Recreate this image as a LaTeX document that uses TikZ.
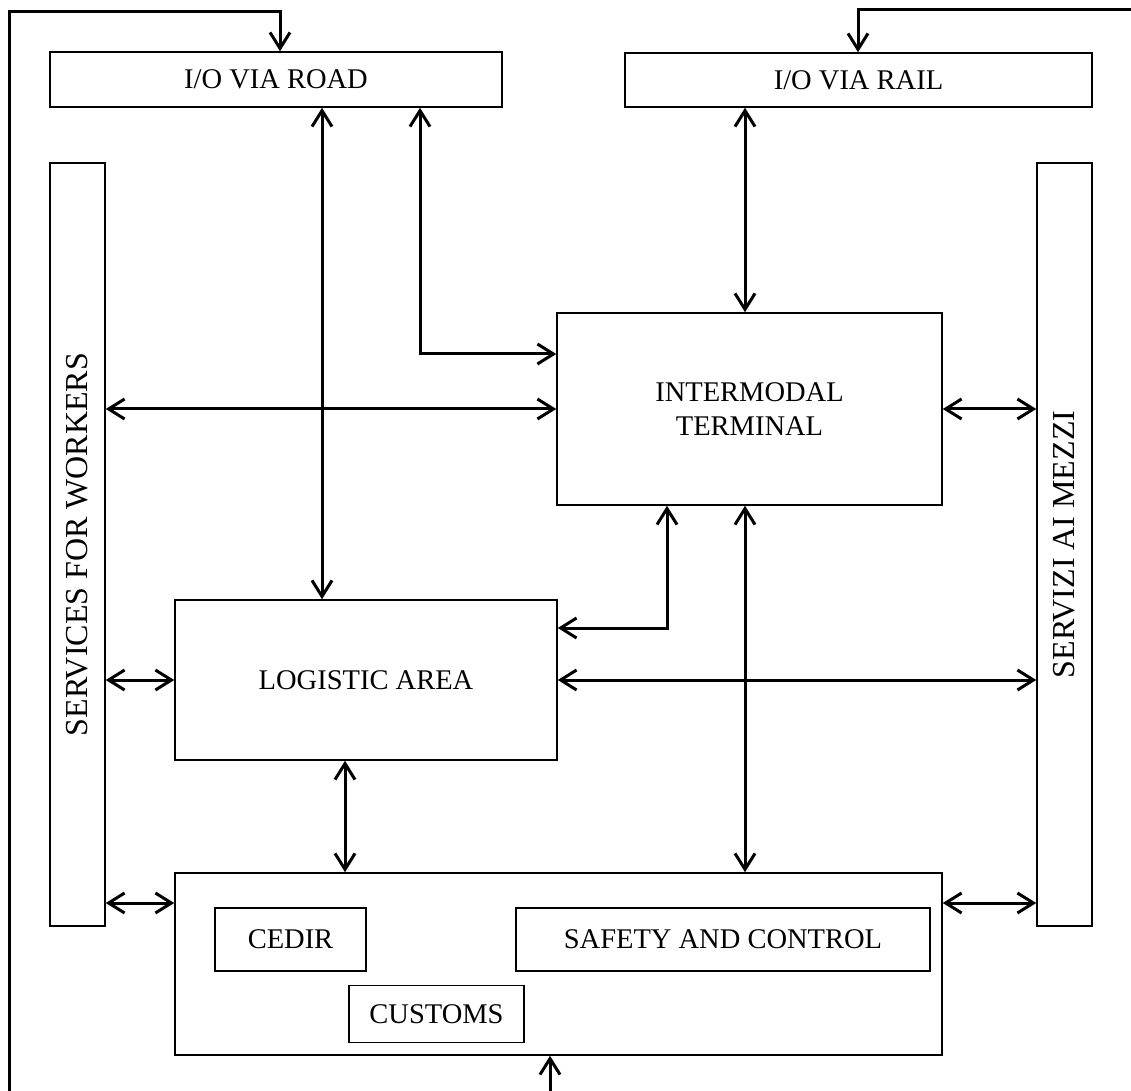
\documentclass[tikz,border=0pt]{standalone}
\usepackage{fontspec}
\setmainfont{Liberation Serif}
\usepackage{tikz}
\usetikzlibrary{arrows.meta,calc}

\tikzset{
  >={Straight Barb[length=8pt,width=10pt]},
  blk/.style={draw, line width=0.75pt, inner sep=0pt, align=center,
    font=\fontsize{14.25}{17}\selectfont},
  side/.style={blk, rotate=90, minimum width=381.5pt, minimum height=27.5pt,
    font=\fontsize{16}{19}\selectfont},
  link/.style={line width=1.5pt, <->},
  feed/.style={line width=1.5pt, ->}
}

\begin{document}
\begin{tikzpicture}[x=0.5pt, y=-0.5pt]
\useasboundingbox (0,0) rectangle (1131,1091);
% boxes
\node[blk, minimum width=226pt, minimum height=27.5pt] (road) at (276,79.5) {I/O VIA ROAD};
\node[blk, minimum width=233.5pt, minimum height=27pt] (rail) at (858.5,80) {I/O VIA RAIL};
% side bars are rotated: south = right side, north = left side
\node[side] (workers) at (77.5,544.5) {SERVICES FOR WORKERS};
\node[side] (mezzi) at (1064.5,544.5) {SERVIZI AI MEZZI};
\node[blk, minimum width=192.5pt, minimum height=96pt] (terminal) at (749.5,409) {INTERMODAL\\TERMINAL};
\node[blk, minimum width=191pt, minimum height=80pt] (logistic) at (366,680) {LOGISTIC AREA};
\node[blk, minimum width=383.5pt, minimum height=91pt] (admin) at (558.5,964) {};
\node[blk, minimum width=75.5pt, minimum height=31.5pt] (cedir) at (290.5,939.5) {CEDIR};
\node[blk, minimum width=207pt, minimum height=31.5pt] (safety) at (723,939.5) {SAFETY AND CONTROL};
\node[blk, minimum width=87.5pt, minimum height=28.5pt] (customs) at (436.5,1014) {CUSTOMS};

% helper points
\coordinate (xroad) at (322,0);
\coordinate (bendA) at (420,354);
\coordinate (xrail) at (745,0);
\coordinate (bendB) at (667,628);
\coordinate (xlog) at (345,0);
\coordinate (rowC) at (0,903);
\coordinate (frmA) at (9,1091);
\coordinate (frmB) at (280,12);
\coordinate (frmC) at (1131,10);
\coordinate (frmD) at (858,0);
\coordinate (frmE) at (550,1091);

% links
\draw[link] (road.south -| xroad) -- (logistic.north -| xroad);
\draw[link] (road.south -| bendA) |- (terminal.west |- bendA);
\draw[link] (rail.south -| xrail) -- (terminal.north -| xrail);
\draw[link] (workers.south |- terminal.west) -- (terminal.west);
\draw[link] (terminal.east) -- (mezzi.north |- terminal.east);
\draw[link] (terminal.south -| bendB) |- (logistic.east |- bendB);
\draw[link] (terminal.south -| xrail) -- (admin.north -| xrail);
\draw[link] (logistic.east) -- (mezzi.north |- logistic.east);
\draw[link] (workers.south |- logistic.west) -- (logistic.west);
\draw[link] (logistic.south -| xlog) -- (admin.north -| xlog);
\draw[link] (workers.south |- rowC) -- (admin.west |- rowC);
\draw[link] (admin.east |- rowC) -- (mezzi.north |- rowC);

% outer feeds
\draw[feed] (frmA) |- (frmB) -- (road.north -| frmB);
\draw[feed] (frmC) -| (rail.north -| frmD);
\draw[feed] (frmE) -- (admin.south -| frmE);
\end{tikzpicture}
\end{document}
